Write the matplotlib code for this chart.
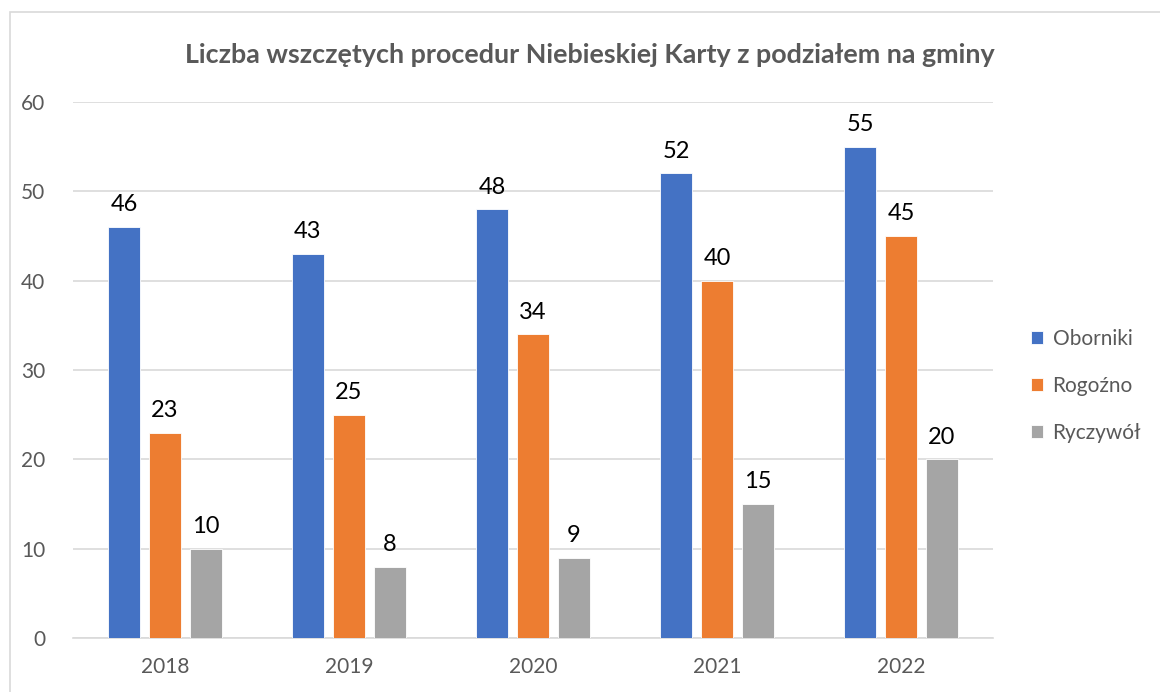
import numpy as np
import matplotlib.pyplot as plt
from matplotlib.patches import Rectangle

years = ["2018", "2019", "2020", "2021", "2022"]
oborniki = [46, 43, 48, 52, 55]
rogozno = [23, 25, 34, 40, 45]
ryczywol = [10, 8, 9, 15, 20]
series_names = ["Oborniki", "Rogoźno", "Ryczywół"]
colors = ["#4472C4", "#ED7D31", "#A5A5A5"]

plt.rcParams['font.family'] = ['Lato', 'DejaVu Sans']

fig = plt.figure(figsize=(11.6, 6.92), dpi=100)
ax = fig.add_axes([73 / 1160, 1 - 638 / 692, 920 / 1160, 536 / 692])

# light frame around the whole chart
fig.patches.append(Rectangle((10 / 1160, -0.05), 1.2, 1 - 12 / 692 + 0.05,
                             transform=fig.transFigure, fill=False,
                             edgecolor="#D9D9D9", linewidth=1.2))

x = np.arange(len(years))
bar_w = 0.174
step = 0.223
for i, (vals, name, c) in enumerate(zip([oborniki, rogozno, ryczywol], series_names, colors)):
    bars = ax.bar(x + (i - 1) * step, vals, bar_w, color=c, label=name,
                  edgecolor="white", linewidth=0.6, zorder=3)
    for b, v in zip(bars, vals):
        ax.text(b.get_x() + b.get_width() / 2, v + 1.3, str(v), ha='center', va='bottom',
                fontsize=17, color='black')

ax.set_xlim(-0.5, 4.5)
ax.set_ylim(0, 60)
ax.set_yticks(range(0, 61, 10))
ax.set_xticks(x)
ax.set_xticklabels(years)
ax.yaxis.grid(True, color="#D9D9D9", linewidth=1.2, zorder=0)
ax.set_axisbelow(True)
for s in ["top", "right", "left"]:
    ax.spines[s].set_visible(False)
ax.spines["bottom"].set_color("#D9D9D9")
ax.spines["bottom"].set_linewidth(1.2)
ax.tick_params(axis='both', length=0, labelsize=15, labelcolor="#595959")
ax.tick_params(axis='x', pad=14)
ax.tick_params(axis='y', pad=20)

fig.text(590 / 1160, 1 - 55 / 692, "Liczba wszczętych procedur Niebieskiej Karty z podziałem na gminy",
         ha='center', va='center', fontsize=19.4, fontweight='bold', color="#595959")

ax.legend(loc='center left', bbox_to_anchor=(1012 / 1160, 1 - 386 / 692),
          bbox_transform=fig.transFigure, frameon=False, fontsize=15,
          labelcolor="#595959", handlelength=0.6, handleheight=0.6,
          handletextpad=0.45, labelspacing=1.3)

fig.savefig("out.png", dpi=100)
